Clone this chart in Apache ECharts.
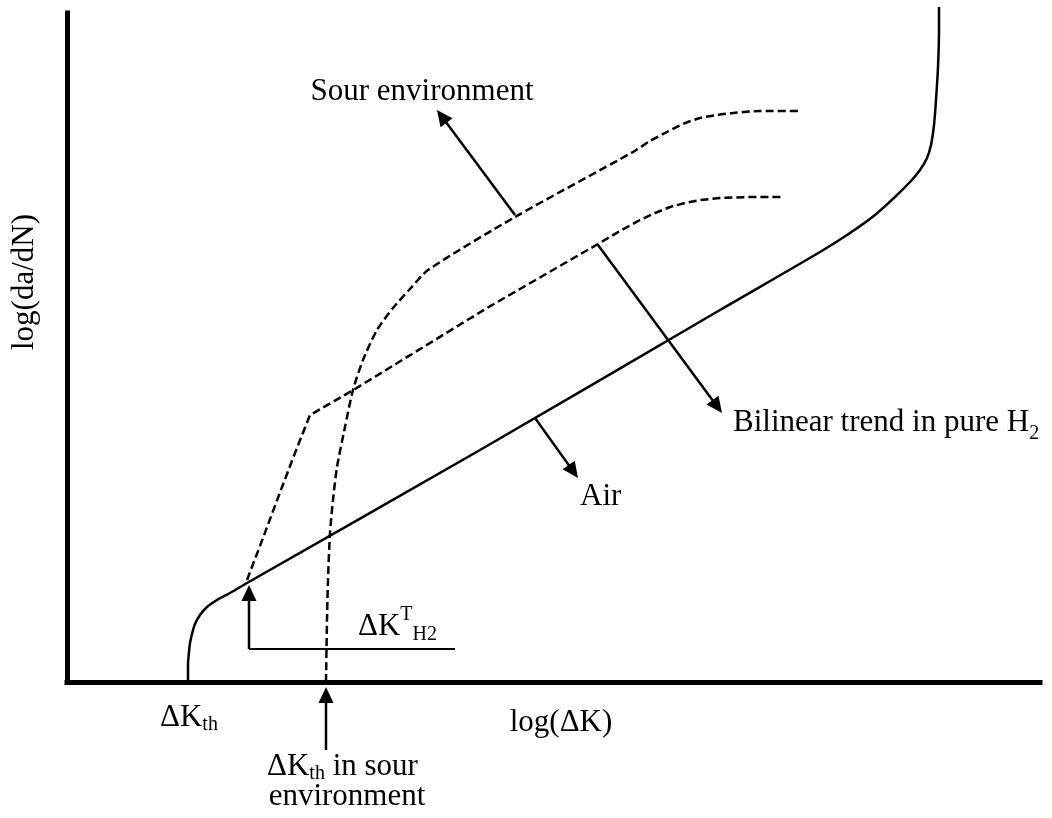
<!DOCTYPE html>
<html><head><meta charset="utf-8">
<script src="https://cdn.jsdelivr.net/npm/echarts@6/dist/echarts.min.js"></script>
<style>html,body{margin:0;padding:0;background:#fff}#c{width:1052px;height:818px}</style>
</head><body><div id="c"></div>
<script>
// Schematic units: x = log(ΔK) position, y = log(da/dN) position (arbitrary)
const X_MAX = 973;
const Y_MAX = 669;

const airCurve = [[121,0],[121,17],[122,30],[123,39],[125,48],[128,58],[133,67],[140,75],[150,82],[163,89],[180,99],[413,232],[653,372],[753,430],[783,449],[808,467],[828,485],[843,500],[853,512],[860,524],[864,537],[867,557],[869,582],[871,615],[872,652],[872,675]];

const bilinearH2Curve = [[180,102],[196,144],[212,187],[228,229],[243,267],[288,293],[420,374],[531,438],[553,451],[573,462],[588,469],[603,475],[618,479],[633,482],[653,484],[683,485],[716,485]];

const sourCurve = [[259,0],[260,62],[261,102],[263,149],[266,182],[270,215],[278,255],[286,292],[296,322],[310,352],[326,374],[343,393],[361,412],[448,465],[566,530],[583,541],[600,550],[616,558],[633,564],[650,567],[666,569],[693,571],[733,571]];

// annotation arrows: [fromX, fromY, toX, toY]
const arrows = [
  [448,467,370,572],   // Sour environment
  [531,437,655,269],   // Bilinear trend in pure H2
  [468,264,511,204],   // Air
  [182,33,182,97],     // ΔK^T_H2
  [259,-68,259,-5]     // ΔK_th in sour environment
];
const guideLines = [
  [182,33,388,33]
];

const FONT = '"Liberation Serif","Times New Roman",Times,serif';
const BIG = 31, SMALL = 20;

const textRuns = [
  {x:422, align:'center', parts:[['Sour environment',BIG,102]]},
  {x:733, align:'left', parts:[['Bilinear trend in pure H',BIG,433],['2',SMALL,440]]},
  {x:580, align:'left', parts:[['Air',BIG,507]]},
  {x:358, align:'left', parts:[['\u0394K',BIG,637],['T',SMALL,621],['H2',SMALL,641]]},
  {x:160, align:'left', parts:[['\u0394K',BIG,728],['th',SMALL,731]]},
  {x:267, align:'left', parts:[['\u0394K',BIG,777],['th',SMALL,780],[' in sour',BIG,777]]},
  {x:347, align:'center', parts:[['environment',BIG,807]]},
  {x:561, align:'center', parts:[['log(\u0394K)',BIG,733]]}
];

const ctx = document.createElement('canvas').getContext('2d');
function tw(t, s){ ctx.font = s + 'px ' + FONT; return ctx.measureText(t).width; }

const graphics = [];
textRuns.forEach(run => {
  const total = run.parts.reduce((a,p)=>a+tw(p[0],p[1]),0);
  let x = run.align === 'center' ? run.x - total/2 : run.x;
  run.parts.forEach(p => {
    graphics.push({type:'text', x:x, y:p[2] - 0.3375*p[1], silent:true,
      style:{text:p[0], font:p[1]+'px '+FONT, fill:'#000', align:'left', verticalAlign:'middle', textAlign:'left', textVerticalAlign:'middle'}});
    x += tw(p[0],p[1]);
  });
});
graphics.push({type:'text', x:25, y:282, rotation:Math.PI/2, silent:true,
  style:{text:'log(da/dN)', font:BIG+'px '+FONT, fill:'#000', align:'center', verticalAlign:'middle', textAlign:'center', textVerticalAlign:'middle'}});

function segRender(withHead){
  return function(params, api){
    const p1 = api.coord([api.value(0), api.value(1)]);
    const p2 = api.coord([api.value(2), api.value(3)]);
    const dx = p2[0]-p1[0], dy = p2[1]-p1[1];
    const len = Math.hypot(dx,dy), ux = dx/len, uy = dy/len;
    const L = 16, W = 7.5;
    const children = [];
    let end = p2;
    if (withHead) end = [p2[0]-ux*L*0.7, p2[1]-uy*L*0.7];
    children.push({type:'line', shape:{x1:p1[0],y1:p1[1],x2:end[0],y2:end[1]}, style:{stroke:'#000', lineWidth:withHead?2.5:2}});
    if (withHead){
      children.push({type:'polygon', shape:{points:[
        [p2[0],p2[1]],
        [p2[0]-ux*L-uy*W, p2[1]-uy*L+ux*W],
        [p2[0]-ux*L+uy*W, p2[1]-uy*L-ux*W]
      ]}, style:{fill:'#000'}});
    }
    return {type:'group', children:children};
  };
}

const chart = echarts.init(document.getElementById('c'), null, {renderer:'canvas'});
chart.setOption({
  animation:false,
  backgroundColor:'#fff',
  grid:{left:67, right:12, top:13, bottom:136, containLabel:false},
  xAxis:{type:'value', min:0, max:X_MAX, axisLine:{show:true, onZero:false, lineStyle:{color:'#000', width:5, cap:'square'}},
    axisTick:{show:false}, axisLabel:{show:false}, splitLine:{show:false}},
  yAxis:{type:'value', min:0, max:Y_MAX, axisLine:{show:true, onZero:false, lineStyle:{color:'#000', width:5, cap:'square'}},
    axisTick:{show:false}, axisLabel:{show:false}, splitLine:{show:false}},
  series:[
    {type:'line', data:airCurve, symbol:'none', smooth:0.3, clip:false, silent:true,
      lineStyle:{color:'#000', width:2.5}},
    {type:'line', data:bilinearH2Curve, symbol:'none', smooth:false, clip:false, silent:true,
      lineStyle:{color:'#000', width:2.5, type:[8,4]}},
    {type:'line', data:sourCurve, symbol:'none', smooth:0.25, clip:false, silent:true,
      lineStyle:{color:'#000', width:2.5, type:[8,4]}},
    {type:'custom', coordinateSystem:'cartesian2d', data:arrows, clip:false, silent:true,
      encode:{x:[0,2], y:[1,3]}, renderItem:segRender(true)},
    {type:'custom', coordinateSystem:'cartesian2d', data:guideLines, clip:false, silent:true,
      encode:{x:[0,2], y:[1,3]}, renderItem:segRender(false)}
  ],
  graphic:graphics
});
</script>
</body></html>
